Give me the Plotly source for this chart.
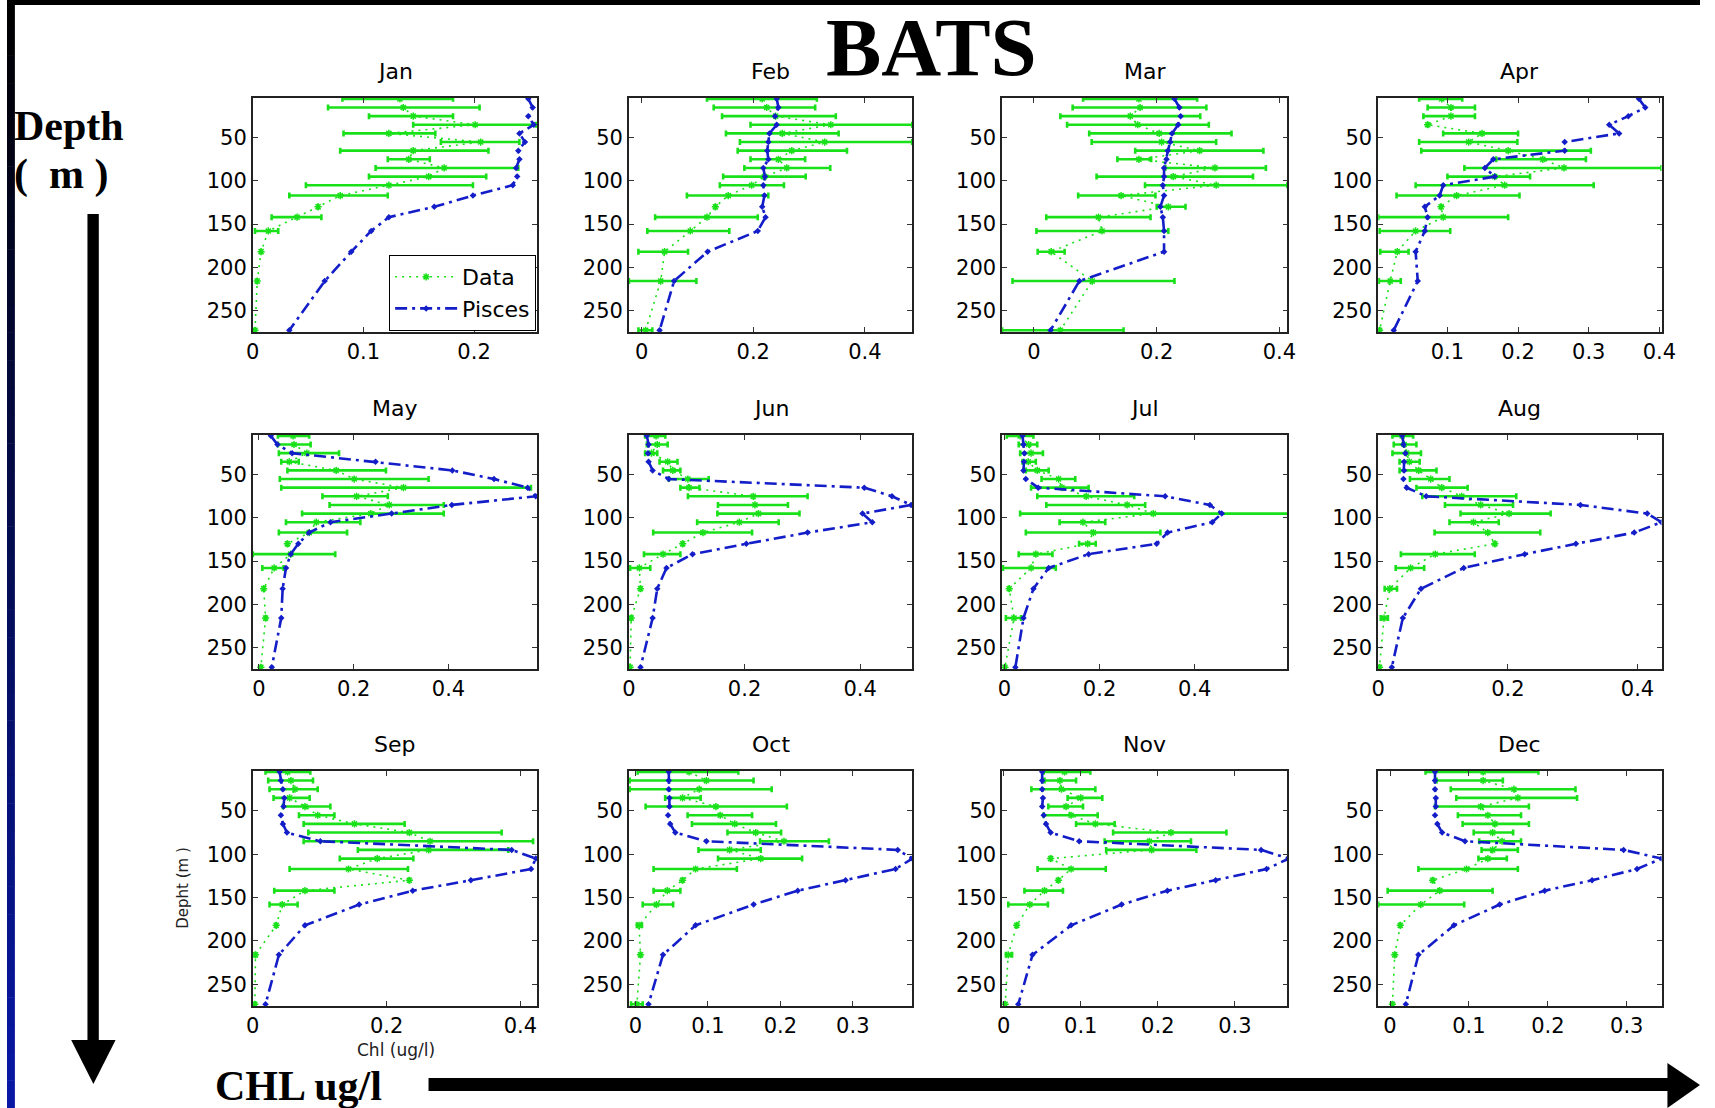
import plotly.graph_objects as go

# ---------------- data ----------------
DEPTH = [5, 15, 25, 35, 45, 55, 65, 75, 85, 95, 105, 117, 130, 142, 158, 182, 216, 273]
MONTHS = ["Jan", "Feb", "Mar", "Apr", "May", "Jun", "Jul", "Aug", "Sep", "Oct", "Nov", "Dec"]

JAN_DATA = [0.133, 0.136, 0.145, 0.201, 0.123, 0.206, 0.145, 0.141, 0.173, 0.159, 0.123, 0.079, 0.059, 0.040, 0.014, 0.0075, 0.004, 0.002]
JAN_LO = [0.081, 0.068, 0.105, 0.145, 0.082, 0.170, 0.079, 0.122, 0.111, 0.105, 0.048, 0.033, 0.059, 0.017, 0.002, 0.0075, 0.004, 0.002]
JAN_HI = [0.181, 0.205, 0.181, 0.256, 0.165, 0.241, 0.213, 0.160, 0.240, 0.211, 0.199, 0.122, 0.059, 0.062, 0.023, 0.0075, 0.004, 0.002]
JAN_PISCES = [0.249, 0.253, 0.249, 0.254, 0.241, 0.246, 0.240, 0.241, 0.238, 0.239, 0.235, 0.199, 0.164, 0.123, 0.107, 0.089, 0.065, 0.033]

FEB_DATA = [0.216, 0.224, 0.240, 0.339, 0.252, 0.328, 0.269, 0.245, 0.260, 0.220, 0.197, 0.155, 0.132, 0.117, 0.087, 0.041, 0.034, 0.007]
FEB_LO = [0.117, 0.129, 0.144, 0.195, 0.151, 0.176, 0.172, 0.195, 0.184, 0.146, 0.140, 0.081, 0.132, 0.024, 0.010, -0.006, -0.023, -0.006]
FEB_HI = [0.314, 0.311, 0.348, 0.485, 0.353, 0.485, 0.368, 0.293, 0.338, 0.294, 0.255, 0.227, 0.132, 0.208, 0.157, 0.083, 0.098, 0.019]
FEB_PISCES = [0.242, 0.245, 0.239, 0.242, 0.229, 0.227, 0.225, 0.227, 0.218, 0.221, 0.218, 0.220, 0.216, 0.222, 0.208, 0.118, 0.058, 0.032]

MAR_DATA = [0.171, 0.173, 0.157, 0.169, 0.204, 0.208, 0.270, 0.171, 0.295, 0.227, 0.297, 0.142, 0.219, 0.105, 0.111, 0.028, 0.095, 0.043]
MAR_LO = [0.080, 0.063, 0.043, 0.054, 0.090, 0.094, 0.165, 0.136, 0.214, 0.102, 0.181, 0.072, 0.200, 0.020, 0.004, 0.006, -0.035, -0.052]
MAR_HI = [0.266, 0.281, 0.271, 0.285, 0.322, 0.297, 0.374, 0.191, 0.378, 0.357, 0.413, 0.198, 0.247, 0.190, 0.219, 0.050, 0.229, 0.146]
MAR_PISCES = [0.229, 0.237, 0.239, 0.235, 0.225, 0.222, 0.218, 0.216, 0.212, 0.212, 0.210, 0.212, 0.206, 0.210, 0.212, 0.212, 0.074, 0.027]

APR_DATA = [0.092, 0.105, 0.105, 0.072, 0.149, 0.130, 0.186, 0.235, 0.265, 0.167, 0.181, 0.113, 0.091, 0.094, 0.055, 0.029, 0.019, 0.004]
APR_LO = [0.060, 0.072, 0.066, 0.072, 0.094, 0.060, 0.063, 0.169, 0.124, 0.100, 0.055, 0.028, 0.091, 0.002, 0.004, 0.005, 0.003, 0.004]
APR_HI = [0.121, 0.139, 0.139, 0.072, 0.200, 0.199, 0.303, 0.296, 0.403, 0.217, 0.307, 0.202, 0.091, 0.186, 0.104, 0.045, 0.034, 0.004]
APR_PISCES = [0.371, 0.380, 0.356, 0.329, 0.343, 0.266, 0.266, 0.165, 0.153, 0.167, 0.094, 0.089, 0.068, 0.072, 0.068, 0.055, 0.058, 0.024]

MAY_DATA = [0.072, 0.074, 0.101, 0.064, 0.163, 0.201, 0.305, 0.206, 0.275, 0.236, 0.121, 0.106, 0.060, 0.067, 0.032, 0.010, 0.014, 0.004]
MAY_LO = [0.040, 0.040, 0.042, 0.047, 0.060, 0.044, 0.047, 0.134, 0.149, 0.091, 0.057, 0.042, 0.060, -0.013, 0.007, 0.010, 0.014, 0.004]
MAY_HI = [0.106, 0.109, 0.169, 0.084, 0.268, 0.358, 0.574, 0.272, 0.390, 0.390, 0.214, 0.186, 0.060, 0.161, 0.052, 0.010, 0.014, 0.004]
MAY_PISCES = [0.025, 0.039, 0.070, 0.246, 0.408, 0.496, 0.567, 0.584, 0.407, 0.280, 0.151, 0.106, 0.083, 0.067, 0.057, 0.050, 0.047, 0.027]

JUN_DATA = [0.047, 0.049, 0.039, 0.067, 0.076, 0.102, 0.104, 0.215, 0.218, 0.224, 0.191, 0.128, 0.093, 0.059, 0.018, 0.020, 0.004, 0.002]
JUN_LO = [0.028, 0.031, 0.028, 0.053, 0.059, 0.069, 0.089, 0.102, 0.154, 0.153, 0.118, 0.042, 0.093, 0.026, 0.002, 0.020, 0.004, 0.002]
JUN_HI = [0.063, 0.067, 0.049, 0.084, 0.089, 0.138, 0.122, 0.309, 0.275, 0.295, 0.259, 0.213, 0.093, 0.089, 0.037, 0.020, 0.004, 0.002]
JUN_PISCES = [0.031, 0.034, 0.033, 0.034, 0.041, 0.069, 0.407, 0.455, 0.488, 0.404, 0.421, 0.309, 0.203, 0.110, 0.065, 0.049, 0.041, 0.020]

JUL_DATA = [0.033, 0.051, 0.056, 0.050, 0.069, 0.114, 0.121, 0.172, 0.258, 0.313, 0.165, 0.187, 0.175, 0.066, 0.056, 0.010, 0.020, 0.001]
JUL_LO = [0.005, 0.030, 0.033, 0.038, 0.045, 0.078, 0.056, 0.069, 0.088, 0.033, 0.116, 0.045, 0.157, 0.030, -0.003, 0.010, 0.003, 0.001]
JUL_HI = [0.061, 0.069, 0.081, 0.066, 0.093, 0.149, 0.177, 0.273, 0.296, 0.598, 0.212, 0.328, 0.192, 0.101, 0.108, 0.010, 0.035, 0.001]
JUL_PISCES = [0.038, 0.040, 0.042, 0.041, 0.040, 0.045, 0.071, 0.338, 0.432, 0.457, 0.437, 0.343, 0.320, 0.177, 0.093, 0.061, 0.040, 0.023]

AUG_DATA = [0.037, 0.040, 0.044, 0.048, 0.0625, 0.081, 0.098, 0.129, 0.158, 0.202, 0.147, 0.169, 0.180, 0.088, 0.050, 0.018, 0.009, 0.002]
AUG_LO = [0.022, 0.024, 0.022, 0.033, 0.033, 0.049, 0.059, 0.068, 0.103, 0.127, 0.110, 0.087, 0.180, 0.035, 0.027, 0.010, 0.004, 0.002]
AUG_HI = [0.054, 0.059, 0.066, 0.064, 0.090, 0.110, 0.138, 0.213, 0.208, 0.266, 0.186, 0.250, 0.180, 0.149, 0.071, 0.029, 0.015, 0.002]
AUG_PISCES = [0.037, 0.039, 0.042, 0.040, 0.040, 0.039, 0.044, 0.074, 0.312, 0.415, 0.437, 0.395, 0.305, 0.226, 0.132, 0.066, 0.038, 0.021]

SEP_DATA = [0.052, 0.057, 0.063, 0.055, 0.078, 0.097, 0.152, 0.234, 0.265, 0.263, 0.186, 0.143, 0.234, 0.078, 0.044, 0.035, 0.004, 0.003]
SEP_LO = [0.019, 0.023, 0.025, 0.031, 0.045, 0.069, 0.076, 0.083, 0.076, 0.157, 0.130, 0.055, 0.234, 0.032, 0.025, 0.035, 0.004, 0.003]
SEP_HI = [0.086, 0.090, 0.097, 0.085, 0.116, 0.122, 0.227, 0.372, 0.419, 0.382, 0.240, 0.232, 0.234, 0.122, 0.067, 0.035, 0.004, 0.003]
SEP_PISCES = [0.040, 0.042, 0.045, 0.047, 0.046, 0.042, 0.045, 0.051, 0.101, 0.387, 0.423, 0.416, 0.326, 0.239, 0.159, 0.078, 0.039, 0.019]

OCT_DATA = [0.074, 0.098, 0.088, 0.065, 0.111, 0.117, 0.137, 0.166, 0.205, 0.130, 0.173, 0.083, 0.065, 0.044, 0.029, 0.005, 0.007, 0.002]
OCT_LO = [0.003, -0.008, -0.008, 0.041, 0.014, 0.072, 0.078, 0.127, 0.172, 0.087, 0.114, 0.025, 0.065, 0.025, 0.010, 0.002, 0.007, -0.006]
OCT_HI = [0.142, 0.163, 0.188, 0.090, 0.209, 0.161, 0.194, 0.201, 0.267, 0.173, 0.230, 0.140, 0.065, 0.062, 0.052, 0.009, 0.007, 0.010]
OCT_PISCES = [0.046, 0.046, 0.046, 0.047, 0.047, 0.045, 0.048, 0.055, 0.098, 0.362, 0.382, 0.359, 0.290, 0.224, 0.163, 0.083, 0.038, 0.018]

NOV_DATA = [0.079, 0.073, 0.075, 0.100, 0.081, 0.0875, 0.119, 0.217, 0.189, 0.192, 0.061, 0.0875, 0.071, 0.053, 0.034, 0.017, 0.006, 0.002]
NOV_LO = [0.052, 0.053, 0.036, 0.083, 0.058, 0.052, 0.094, 0.142, 0.131, 0.133, 0.061, 0.044, 0.071, 0.027, 0.006, 0.017, 0.003, 0.002]
NOV_HI = [0.1125, 0.094, 0.119, 0.128, 0.103, 0.122, 0.144, 0.289, 0.243, 0.250, 0.061, 0.1325, 0.071, 0.077, 0.0575, 0.017, 0.011, 0.002]
NOV_PISCES = [0.050, 0.050, 0.050, 0.051, 0.050, 0.052, 0.055, 0.061, 0.098, 0.334, 0.370, 0.341, 0.275, 0.2125, 0.153, 0.0875, 0.0375, 0.019]

DEC_DATA = [0.118, 0.118, 0.157, 0.162, 0.115, 0.124, 0.133, 0.130, 0.142, 0.130, 0.124, 0.097, 0.054, 0.063, 0.039, 0.013, 0.006, 0.003]
DEC_LO = [0.045, 0.059, 0.077, 0.084, 0.057, 0.086, 0.092, 0.106, 0.113, 0.116, 0.112, 0.036, 0.054, -0.003, -0.015, 0.013, 0.006, 0.003]
DEC_HI = [0.188, 0.143, 0.235, 0.237, 0.176, 0.166, 0.176, 0.156, 0.166, 0.162, 0.148, 0.162, 0.054, 0.130, 0.094, 0.013, 0.006, 0.003]
DEC_PISCES = [0.057, 0.057, 0.057, 0.058, 0.058, 0.057, 0.060, 0.066, 0.095, 0.296, 0.344, 0.313, 0.256, 0.196, 0.139, 0.081, 0.036, 0.020]

X_RANGES = [[0, 0.257], [-0.023, 0.485], [-0.052, 0.413], [0.002, 0.403],
            [-0.013, 0.587], [0, 0.49], [-0.005, 0.595], [0, 0.437],
            [0, 0.425], [-0.009, 0.382], [-0.002, 0.368], [-0.015, 0.344]]
X_TICKS = [[0, 0.1, 0.2], [0, 0.2, 0.4], [0, 0.2, 0.4], [0.1, 0.2, 0.3, 0.4],
           [0, 0.2, 0.4], [0, 0.2, 0.4], [0, 0.2, 0.4], [0, 0.2, 0.4],
           [0, 0.2, 0.4], [0, 0.1, 0.2, 0.3], [0, 0.1, 0.2, 0.3], [0, 0.1, 0.2, 0.3]]
Y_TICKS = [50, 100, 150, 200, 250]
Y_RANGE = [275, 4]

SERIES = [
    (JAN_DATA, JAN_LO, JAN_HI, JAN_PISCES), (FEB_DATA, FEB_LO, FEB_HI, FEB_PISCES),
    (MAR_DATA, MAR_LO, MAR_HI, MAR_PISCES), (APR_DATA, APR_LO, APR_HI, APR_PISCES),
    (MAY_DATA, MAY_LO, MAY_HI, MAY_PISCES), (JUN_DATA, JUN_LO, JUN_HI, JUN_PISCES),
    (JUL_DATA, JUL_LO, JUL_HI, JUL_PISCES), (AUG_DATA, AUG_LO, AUG_HI, AUG_PISCES),
    (SEP_DATA, SEP_LO, SEP_HI, SEP_PISCES), (OCT_DATA, OCT_LO, OCT_HI, OCT_PISCES),
    (NOV_DATA, NOV_LO, NOV_HI, NOV_PISCES), (DEC_DATA, DEC_LO, DEC_HI, DEC_PISCES),
]

# ---------------- layout / style ----------------
W, H = 1715, 1108
COL_X = [(249, 537), (630, 917), (1008, 1297), (1389, 1676)]
ROW_Y = [(98, 332), (435, 669), (771, 1006)]
GREEN = "rgb(25,225,25)"
BLUE = "rgb(20,30,200)"
SANS = "DejaVu Sans, Liberation Sans, Arial, sans-serif"
SERIF = "Liberation Serif, Times New Roman, serif"


def px(x):
    return x / W


def py(y):
    return 1 - y / H


fig = go.Figure()
layout = dict(
    width=W, height=H, margin=dict(l=0, r=0, t=0, b=0),
    paper_bgcolor="white", plot_bgcolor="white",
    font=dict(family=SANS, size=20, color="black"),
    showlegend=True,
)

annotations = []
for i, month in enumerate(MONTHS):
    r, c = divmod(i, 4)
    x0, x1 = COL_X[c]
    y0, y1 = ROW_Y[r]
    n = "" if i == 0 else str(i + 1)
    xa, ya = "x" + n, "y" + n
    data, lo, hi, pisces = SERIES[i]
    plus = [h - d for h, d in zip(hi, data)]
    minus = [d - l for d, l in zip(data, lo)]

    fig.add_trace(go.Scatter(
        x=data, y=DEPTH, xaxis=xa, yaxis=ya, name="Data", showlegend=(i == 0),
        mode="lines+markers",
        line=dict(color=GREEN, width=1.6, dash="2px,5px"),
        marker=dict(symbol="asterisk-open", size=6, color=GREEN, line=dict(color=GREEN, width=1.5)),
        error_x=dict(type="data", symmetric=False, array=plus, arrayminus=minus,
                     color=GREEN, thickness=2.6, width=3),
    ))
    fig.add_trace(go.Scatter(
        x=pisces, y=DEPTH, xaxis=xa, yaxis=ya, name="Pisces", showlegend=(i == 0),
        mode="lines+markers",
        line=dict(color=BLUE, width=2.6, dash="12px,5px,3px,5px"),
        marker=dict(symbol="diamond", size=5, color=BLUE, line=dict(width=0)),
    ))

    layout["xaxis" + n] = dict(
        domain=[px(x0), px(x1)], anchor=ya, range=X_RANGES[i],
        tickmode="array", tickvals=X_TICKS[i], ticktext=[f"{v:g}" for v in X_TICKS[i]],
        ticks="inside", ticklen=5, tickwidth=1, tickcolor="#333",
        showline=True, linecolor="#222", linewidth=1.5, mirror="ticks",
        showgrid=False, zeroline=False, tickfont=dict(size=21, family=SANS),
    )
    layout["yaxis" + n] = dict(
        domain=[py(y1), py(y0)], anchor=xa, range=Y_RANGE,
        tickmode="array", tickvals=Y_TICKS,
        ticks="inside", ticklen=5, tickwidth=1, tickcolor="#333",
        showline=True, linecolor="#222", linewidth=1.5, mirror="ticks",
        showgrid=False, zeroline=False, tickfont=dict(size=21, family=SANS),
    )
    annotations.append(dict(text=month, x=px((x0 + x1) / 2), y=py(y0 - 27),
                            xref="paper", yref="paper", showarrow=False,
                            font=dict(size=22, family=SANS), xanchor="center", yanchor="middle"))

# axis labels on the Sep panel
annotations.append(dict(text="Depht (m )", x=px(178), y=py(888), xref="paper", yref="paper",
                        xanchor="center", yanchor="middle",
                        showarrow=False, textangle=-90, font=dict(size=15, family=SANS, color="#222")))
annotations.append(dict(text="Chl (ug/l)", x=px(394), y=py(1050), xref="paper", yref="paper",
                        xanchor="center", yanchor="middle",
                        showarrow=False, font=dict(size=17, family=SANS, color="#222")))
# slide texts
annotations.append(dict(text="<b>BATS</b>", x=px(937), y=1, xref="paper", yref="paper",
                        xanchor="center", yanchor="top", borderpad=0,
                        showarrow=False, font=dict(size=83, family=SERIF, color="black")))
annotations.append(dict(text="<b>Depth</b>", x=px(5), y=py(126), xref="paper", yref="paper",
                        xanchor="left", yanchor="middle",
                        showarrow=False, font=dict(size=42, family=SERIF, color="black")))
annotations.append(dict(text="<b>(  m )</b>", x=px(5), y=py(174), xref="paper", yref="paper",
                        xanchor="left", yanchor="middle",
                        showarrow=False, font=dict(size=42, family=SERIF, color="black")))
annotations.append(dict(text="<b>CHL ug/l</b>", x=px(209), y=py(1086), xref="paper", yref="paper",
                        xanchor="left", yanchor="middle",
                        showarrow=False, font=dict(size=42, family=SERIF, color="black")))
layout["annotations"] = annotations

shapes = []
# top black band
shapes.append(dict(type="rect", xref="paper", yref="paper", x0=0, x1=1, y0=py(5), y1=1,
                   fillcolor="black", line=dict(width=0)))
# left gradient strip (black -> blue)
steps = 40
for k in range(steps):
    t = k / (steps - 1)
    col = f"rgb({int(8 * t)},{int(24 * t)},{int(165 * t)})"
    shapes.append(dict(type="rect", xref="paper", yref="paper", x0=0, x1=px(8),
                       y0=py(H * (k + 1) / steps + 0.5), y1=py(H * k / steps),
                       fillcolor=col, line=dict(width=0)))
# vertical arrow
shapes.append(dict(type="rect", xref="paper", yref="paper", x0=px(81.5), x1=px(93),
                   y0=py(1042), y1=py(214), fillcolor="black", line=dict(width=0)))
shapes.append(dict(type="path", xref="paper", yref="paper",
                   path=f"M {px(65)} {py(1040)} L {px(110)} {py(1040)} L {px(87.5)} {py(1084)} Z",
                   fillcolor="black", line=dict(width=0)))
# horizontal arrow
shapes.append(dict(type="rect", xref="paper", yref="paper", x0=px(427), x1=px(1684),
                   y0=py(1091), y1=py(1078), fillcolor="black", line=dict(width=0)))
shapes.append(dict(type="path", xref="paper", yref="paper",
                   path=f"M {px(1682)} {py(1063)} L {px(1715)} {py(1085)} L {px(1682)} {py(1108)} Z",
                   fillcolor="black", line=dict(width=0)))
layout["shapes"] = shapes

layout["legend"] = dict(x=px(536), y=py(331), xanchor="right", yanchor="bottom",
                        bordercolor="black", borderwidth=1, bgcolor="white",
                        font=dict(size=22, family=SANS), tracegroupgap=0, itemwidth=62)

fig.update_layout(**layout)
fig.write_html("out.html")
